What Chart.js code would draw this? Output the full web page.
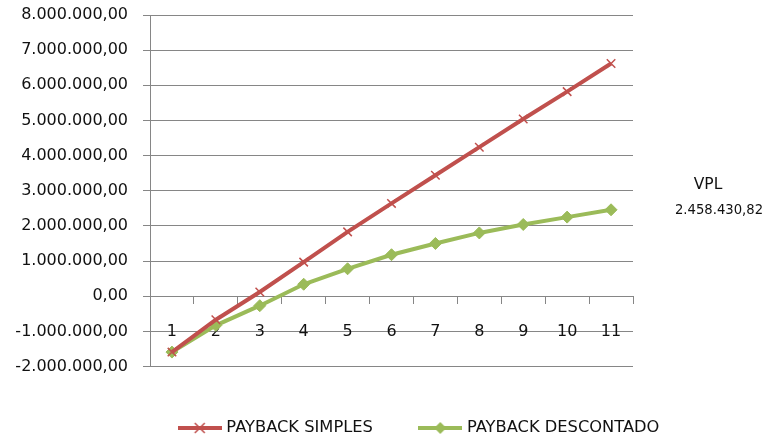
<!DOCTYPE html>
<html lang="pt-BR">
<head>
<meta charset="UTF-8">
<title>Payback</title>
<script src="https://cdn.jsdelivr.net/npm/chart.js"></script>
<style>
    body {
        margin: 0;
        background: #fff;
        font-family: 'DejaVu Sans', sans-serif;
    }
    .wrap {
        position: relative;
        width: 767px;
        height: 437px;
    }
    .vpl {
        position: absolute;
        color: #111;
        text-align: center;
    }
</style>
</head>
<body>
<div class="wrap">
    <canvas id="chart"></canvas>
    <div class="vpl" id="vplTitle" style="left:668px; top:175px; width:80px; font-size:15.5px;"></div>
    <div class="vpl" id="vplValue" style="left:669px; top:202px; width:100px; font-size:13.2px;"></div>
</div>

<script>
    // Dados
    const anos = ['1', '2', '3', '4', '5', '6', '7', '8', '9', '10', '11'];
    const paybackSimples = [-1590000, -670000, 120000, 970000, 1830000, 2640000, 3440000, 4240000, 5040000, 5820000, 6620000];
    const paybackDescontado = [-1590000, -830000, -270000, 340000, 780000, 1180000, 1500000, 1800000, 2040000, 2250000, 2458430.82];
    const nomesSeries = ['PAYBACK SIMPLES', 'PAYBACK DESCONTADO'];
    const yMin = -2000000;
    const yMax = 8000000;
    const yStep = 1000000;
    const vplTitulo = 'VPL';
    const vpl = 2458430.82;

    const RED = '#C0504D';
    const GREEN = '#9BBB59';
    const GRID = '#868686';

    // formato brasileiro: 1.000.000,00
    function formatBR(v) {
        const neg = v < 0;
        const parts = Math.abs(v).toFixed(2).split('.');
        const inteiro = parts[0].replace(/\B(?=(\d{3})+(?!\d))/g, '.');
        return (neg ? '-' : '') + inteiro + ',' + parts[1];
    }

    document.getElementById('vplTitle').textContent = vplTitulo;
    document.getElementById('vplValue').textContent = formatBR(vpl);

    // símbolo da legenda: linha com marcador
    function legendIcon(color, marker) {
        const c = document.createElement('canvas');
        c.width = 44;
        c.height = 14;
        const ctx = c.getContext('2d');
        ctx.strokeStyle = color;
        ctx.lineWidth = 4;
        ctx.beginPath();
        ctx.moveTo(0, 7);
        ctx.lineTo(44, 7);
        ctx.stroke();
        if (marker === 'cross') {
            ctx.lineWidth = 1.5;
            ctx.beginPath();
            ctx.moveTo(17, 2); ctx.lineTo(27, 12);
            ctx.moveTo(27, 2); ctx.lineTo(17, 12);
            ctx.stroke();
        } else {
            ctx.fillStyle = color;
            ctx.beginPath();
            ctx.moveTo(22, 1); ctx.lineTo(28, 7); ctx.lineTo(22, 13); ctx.lineTo(16, 7);
            ctx.closePath();
            ctx.fill();
        }
        return c;
    }
    const icons = [legendIcon(RED, 'cross'), legendIcon(GREEN, 'diamond')];

    const tickFont = { family: "'DejaVu Sans', sans-serif", size: 16 };

    new Chart(document.getElementById('chart'), {
        type: 'line',
        data: {
            labels: anos,
            datasets: [
                {
                    label: nomesSeries[0],
                    data: paybackSimples,
                    borderColor: RED,
                    backgroundColor: RED,
                    borderWidth: 4,
                    pointStyle: 'crossRot',
                    pointRadius: 6,
                    pointBorderWidth: 1.5,
                    tension: 0
                },
                {
                    label: nomesSeries[1],
                    data: paybackDescontado,
                    borderColor: GREEN,
                    backgroundColor: GREEN,
                    borderWidth: 4,
                    pointStyle: 'rectRot',
                    pointRadius: 6,
                    pointBorderWidth: 1,
                    tension: 0
                }
            ]
        },
        options: {
            responsive: true,
            maintainAspectRatio: false,
            animation: false,
            layout: {
                padding: { left: 0, right: -73.65, top: 15, bottom: -9.15 }
            },
            plugins: {
                tooltip: { enabled: false },
                legend: {
                    position: 'bottom',
                    align: 'center',
                    title: {
                        display: true,
                        text: ' ',
                        padding: 0,
                        font: { size: 4.5, lineHeight: 1 }
                    },
                    labels: {
                        usePointStyle: true,
                        pointStyleWidth: 37,
                        padding: 48.85,
                        color: '#111',
                        font: { family: "'DejaVu Sans', sans-serif", size: 16.3 },
                        generateLabels: chart =>
                            Chart.defaults.plugins.legend.labels.generateLabels(chart)
                                .map((item, i) => ({ ...item, pointStyle: icons[i] }))
                    }
                }
            },
            scales: {
                x: {
                    type: 'category',
                    position: { y: 0 },
                    offset: true,
                    grid: {
                        offset: true,
                        drawOnChartArea: false,
                        drawTicks: true,
                        tickLength: 7,
                        color: GRID
                    },
                    border: { display: true, color: GRID },
                    ticks: {
                        color: '#111',
                        font: tickFont,
                        padding: 19,
                        maxRotation: 0,
                        autoSkip: false
                    }
                },
                y: {
                    type: 'linear',
                    position: 'left',
                    min: yMin,
                    max: yMax,
                    afterFit: scale => {
                        scale.width = 150;
                        // o espaço dos rótulos nas pontas fica por conta do layout
                        scale.paddingTop = 0;
                        scale.paddingBottom = 0;
                    },
                    grid: {
                        color: GRID,
                        tickLength: 7
                    },
                    border: { display: true, color: GRID },
                    ticks: {
                        stepSize: yStep,
                        color: '#111',
                        font: tickFont,
                        padding: 15,
                        callback: v => formatBR(v)
                    }
                },
                spacer: {
                    type: 'linear',
                    axis: 'y',
                    position: 'right',
                    display: true,
                    grid: { display: false },
                    border: { display: false },
                    ticks: { display: false },
                    afterFit: scale => { scale.width = 207.65; }
                }
            }
        }
    });
</script>
</body>
</html>
